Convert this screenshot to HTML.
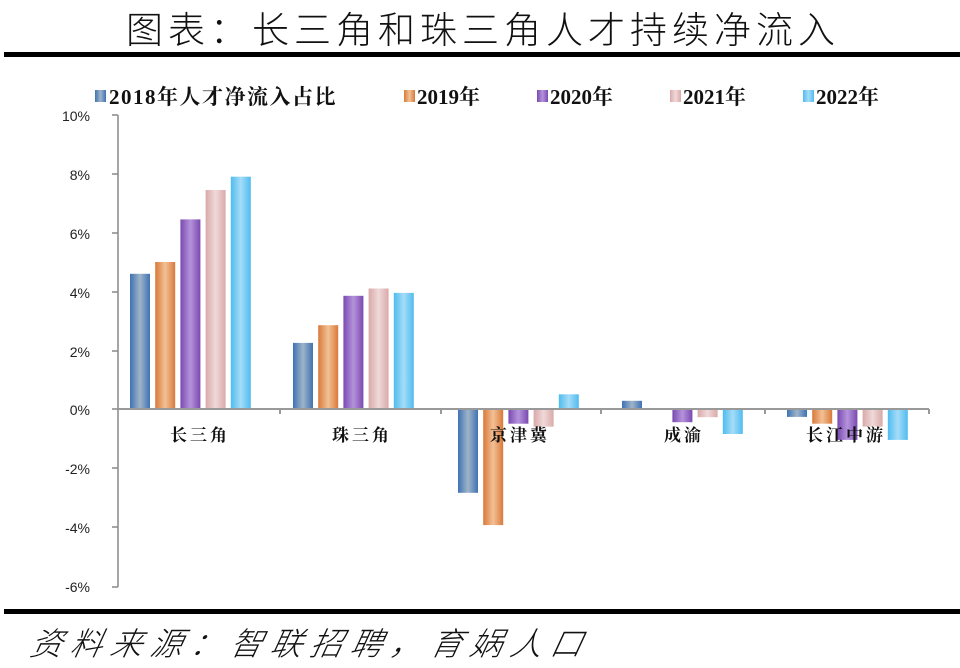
<!DOCTYPE html>
<html><head><meta charset="utf-8"><style>
html,body{margin:0;padding:0;background:#fff;width:960px;height:668px;overflow:hidden}
</style></head><body>
<svg width="960" height="668" xmlns="http://www.w3.org/2000/svg">
<defs>
<linearGradient id="g0" x1="0" x2="1"><stop offset="0" stop-color="#3f72b4"/><stop offset="0.5" stop-color="#9fb4c8"/><stop offset="1" stop-color="#3f72b4"/></linearGradient>
<linearGradient id="g1" x1="0" x2="1"><stop offset="0" stop-color="#d9793a"/><stop offset="0.5" stop-color="#f2c195"/><stop offset="1" stop-color="#d9793a"/></linearGradient>
<linearGradient id="g2" x1="0" x2="1"><stop offset="0" stop-color="#7a4ab0"/><stop offset="0.5" stop-color="#b593dc"/><stop offset="1" stop-color="#7a4ab0"/></linearGradient>
<linearGradient id="g3" x1="0" x2="1"><stop offset="0" stop-color="#d9a9a9"/><stop offset="0.5" stop-color="#f0d9d9"/><stop offset="1" stop-color="#d9a9a9"/></linearGradient>
<linearGradient id="g4" x1="0" x2="1"><stop offset="0" stop-color="#4fbcef"/><stop offset="0.5" stop-color="#a5dcf8"/><stop offset="1" stop-color="#4fbcef"/></linearGradient>
</defs>
<text x="483" y="43" text-anchor="middle" font-family="'Noto Sans CJK SC',sans-serif" font-size="37" letter-spacing="5" fill="#111" font-weight="300">图表：长三角和珠三角人才持续净流入</text>
<rect x="4" y="52" width="956" height="5" fill="#000"/>
<rect x="4" y="609" width="956" height="5" fill="#000"/>
<text x="30" y="655" font-family="'Noto Sans CJK SC',sans-serif" font-size="32" font-style="italic" letter-spacing="8" fill="#111" transform="skewX(-12) translate(138,0)" font-weight="300">资料来源：智联招聘，育娲人口</text>
<g font-family="'Liberation Serif','Noto Serif CJK SC',serif" font-weight="bold" font-size="21" fill="#111">
<rect x="95" y="90" width="11" height="12" fill="url(#g0)"/><text x="109" y="104" letter-spacing="1.5">2018年人才净流入占比</text>
<rect x="404" y="90" width="11" height="12" fill="url(#g1)"/><text x="417" y="104">2019年</text>
<rect x="537" y="90" width="11" height="12" fill="url(#g2)"/><text x="550" y="104">2020年</text>
<rect x="670" y="90" width="11" height="12" fill="url(#g3)"/><text x="683" y="104">2021年</text>
<rect x="803" y="90" width="11" height="12" fill="url(#g4)"/><text x="816" y="104">2022年</text>
</g>
<g font-family="'Liberation Sans',sans-serif" font-size="14" fill="#222" text-anchor="end">
<text x="90" y="121">10%</text><text x="90" y="180">8%</text><text x="90" y="239">6%</text><text x="90" y="298">4%</text><text x="90" y="357">2%</text><text x="90" y="415">0%</text><text x="90" y="474">-2%</text><text x="90" y="533">-4%</text><text x="90" y="592">-6%</text>
</g>
<g stroke="#888" stroke-width="1.5" fill="none">
<line x1="118" y1="115" x2="118" y2="587"/>
<line x1="112" y1="115" x2="118" y2="115"/><line x1="112" y1="174" x2="118" y2="174"/><line x1="112" y1="233" x2="118" y2="233"/><line x1="112" y1="292" x2="118" y2="292"/><line x1="112" y1="351" x2="118" y2="351"/><line x1="112" y1="409" x2="118" y2="409"/><line x1="112" y1="468" x2="118" y2="468"/><line x1="112" y1="527" x2="118" y2="527"/><line x1="112" y1="587" x2="118" y2="587"/>
</g>
<g>
<rect x="130" y="273.8" width="20" height="135.2" fill="url(#g0)"/>
<rect x="155.2" y="262" width="20" height="147" fill="url(#g1)"/>
<rect x="180.4" y="219.4" width="20" height="189.6" fill="url(#g2)"/>
<rect x="205.6" y="190" width="20" height="219" fill="url(#g3)"/>
<rect x="230.8" y="176.7" width="20" height="232.3" fill="url(#g4)"/>
<rect x="293" y="342.9" width="20" height="66.1" fill="url(#g0)"/>
<rect x="318.2" y="325.2" width="20" height="83.8" fill="url(#g1)"/>
<rect x="343.4" y="295.8" width="20" height="113.2" fill="url(#g2)"/>
<rect x="368.6" y="288.5" width="20" height="120.5" fill="url(#g3)"/>
<rect x="393.8" y="292.9" width="20" height="116.1" fill="url(#g4)"/>
<rect x="458" y="409" width="20" height="83.8" fill="url(#g0)"/>
<rect x="483.2" y="409" width="20" height="116.1" fill="url(#g1)"/>
<rect x="508.4" y="409" width="20" height="14.7" fill="url(#g2)"/>
<rect x="533.6" y="409" width="20" height="17.6" fill="url(#g3)"/>
<rect x="558.8" y="394.3" width="20" height="14.7" fill="url(#g4)"/>
<rect x="622" y="400.8" width="20" height="8.2" fill="url(#g0)"/>
<rect x="672.4" y="409" width="20" height="13.2" fill="url(#g2)"/>
<rect x="697.6" y="409" width="20" height="8.2" fill="url(#g3)"/>
<rect x="722.8" y="409" width="20" height="25" fill="url(#g4)"/>
<rect x="787" y="409" width="20" height="7.9" fill="url(#g0)"/>
<rect x="812.2" y="409" width="20" height="14.7" fill="url(#g1)"/>
<rect x="837.4" y="409" width="20" height="30.9" fill="url(#g2)"/>
<rect x="862.6" y="409" width="20" height="17.6" fill="url(#g3)"/>
<rect x="887.8" y="409" width="20" height="30.9" fill="url(#g4)"/>
</g>
<g stroke="#999" stroke-width="2"><line x1="118" y1="409" x2="929" y2="409"/>
<line x1="280" y1="409" x2="280" y2="414"/><line x1="441" y1="409" x2="441" y2="414"/><line x1="601" y1="409" x2="601" y2="414"/><line x1="765" y1="409" x2="765" y2="414"/><line x1="929" y1="409" x2="929" y2="414"/></g>
<g font-family="'Liberation Serif','Noto Serif CJK SC',serif" font-size="17" fill="#111" text-anchor="middle" letter-spacing="3" font-weight="bold">
<text x="200" y="441">长三角</text><text x="362" y="441">珠三角</text><text x="520" y="441">京津冀</text><text x="684" y="441">成渝</text><text x="846" y="441">长江中游</text>
</g>
</svg>
</body></html>
